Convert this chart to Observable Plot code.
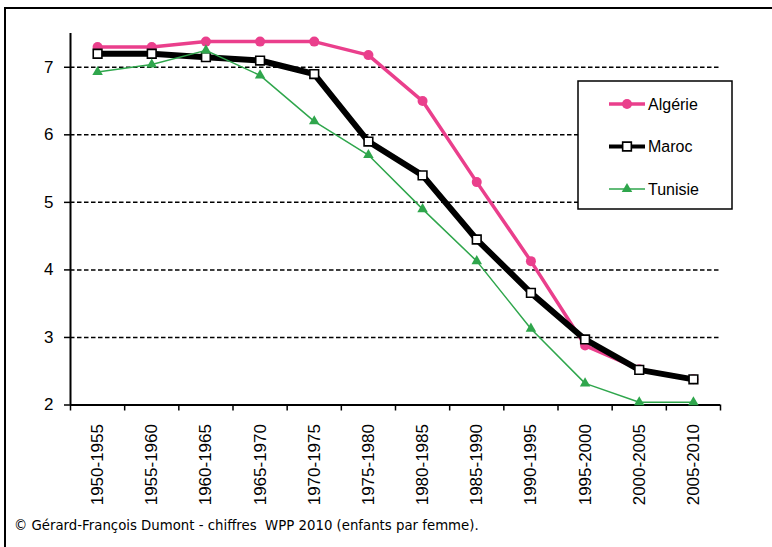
<!DOCTYPE html>
<html><head><meta charset="utf-8">
<script src="https://cdn.jsdelivr.net/npm/d3@7"></script>
<script src="https://cdn.jsdelivr.net/npm/@observablehq/plot@0.6"></script>
<style>
html,body{margin:0;padding:0;background:#fff;}
#wrap{position:relative;width:772px;height:547px;overflow:hidden;background:#fff;}
#frame{position:absolute;left:4px;top:7px;width:800px;height:600px;border-left:2px solid #000;border-top:2px solid #000;box-sizing:border-box;}
#chart{position:absolute;left:0;top:0;}
#caption{position:absolute;left:14px;top:518px;font-family:"DejaVu Sans",sans-serif;font-size:13.3px;line-height:16px;white-space:pre;color:#000;}
</style></head><body>
<div id="wrap"><div id="chart"></div><div id="frame"></div><div id="caption"></div></div>
<script>
const periods = ["1950-1955","1955-1960","1960-1965","1965-1970","1970-1975","1975-1980","1980-1985","1985-1990","1990-1995","1995-2000","2000-2005","2005-2010"];
const algerie = [7.3,7.3,7.38,7.38,7.38,7.18,6.5,5.3,4.13,2.88,2.53,2.38];
const maroc   = [7.2,7.2,7.15,7.1,6.9,5.9,5.4,4.45,3.66,2.97,2.52,2.38];
const tunisie = [6.93,7.04,7.25,6.88,6.2,5.7,4.9,4.13,3.13,2.32,2.04,2.04];
const seriesNames = ["Algérie","Maroc","Tunisie"];
const yTicks = [2,3,4,5,6,7];
const gridValues = [3,4,5,6,7];
const captionText = "© Gérard-François Dumont - chiffres  WPP 2010 (enfants par femme).";

const styles = [
  {color:"#EA3F8C", width:3.5, symbol:"circle", r:5, fill:"#EA3F8C", stroke:"none", sw:0},
  {color:"#000000", width:6, symbol:"square", r:4.9, fill:"#ffffff", stroke:"#000", sw:1.6},
  {color:"#2FA64C", width:1.5, symbol:"triangle", r:3.9, fill:"#2FA64C", stroke:"none", sw:0}
];
const allValues = [algerie, maroc, tunisie];
const rows = allValues.map((vals, k) => vals.map((v, i) => ({x: i + 0.5, value: v, series: seriesNames[k]})));

const seriesMarks = [];
rows.forEach((r, k) => {
  const s = styles[k];
  seriesMarks.push(Plot.line(r, {x:"x", y:"value", stroke:s.color, strokeWidth:s.width, strokeLinejoin:"round"}));
  seriesMarks.push(Plot.dot(r, {x:"x", y:"value", r:s.r, symbol:s.symbol, fill:s.fill, stroke:s.stroke, strokeWidth:s.sw}));
});

const chart = Plot.plot({
  width: 772, height: 505,
  marginLeft: 70, marginRight: 52, marginTop: 33, marginBottom: 100.5,
  x: {domain: [0, periods.length], label: null},
  y: {domain: [2, 7.5], label: null},
  style: {fontFamily: "'Liberation Sans', Arial, sans-serif", fontSize: "17px", color: "#000", background: "transparent", overflow: "visible"},
  marks: [
    Plot.ruleY(gridValues, {stroke: "#000", strokeWidth: 1.5, strokeDasharray: "4.5,2.5"}),
    Plot.axisY({ticks: yTicks, tickSize: 6, tickPadding: 11, tickFormat: d => String(d), strokeWidth: 1.5, fontSize: 17, label: null}),
    Plot.axisX({ticks: d3.range(0, periods.length + 1), tickSize: 6, tickFormat: () => "", strokeWidth: 1.5, label: null}),
    Plot.axisX({ticks: periods.map((_, i) => i + 0.5), tickSize: 0, tickPadding: 19, tickRotate: -90, tickFormat: v => periods[Math.floor(v)], fontSize: 17, label: null}),
    Plot.ruleX([0], {y1: 2, y2: 7.5, strokeWidth: 2}),
    Plot.ruleY([2], {strokeWidth: 2}),
    ...seriesMarks
  ]
});
document.getElementById("chart").appendChild(chart);

// Legend
const svg = d3.select(chart);
const lg = svg.append("g").attr("text-anchor", "start");
const box = {x: 578, y: 81, w: 154, h: 128};
lg.append("rect").attr("x", box.x).attr("y", box.y).attr("width", box.w).attr("height", box.h)
  .attr("fill", "#fff").attr("stroke", "#000").attr("stroke-width", 1.5);
const symMap = {circle: d3.symbolCircle, square: d3.symbolSquare, triangle: d3.symbolTriangle};
seriesNames.forEach((name, k) => {
  const s = styles[k];
  const cy = 104 + k * 42.5;
  const g = lg.append("g");
  g.append("line").attr("x1", 609).attr("x2", 645).attr("y1", cy).attr("y2", cy)
    .attr("stroke", s.color).attr("stroke-width", Math.min(s.width, 4));
  g.append("path").attr("transform", `translate(627,${cy})`)
    .attr("d", d3.symbol(symMap[s.symbol], Math.PI * s.r * s.r)())
    .attr("fill", s.fill).attr("stroke", s.stroke).attr("stroke-width", s.sw);
  g.append("text").attr("x", 648).attr("y", cy).attr("dy", "0.35em").attr("text-anchor", "start")
    .attr("font-size", 16).attr("font-family", "'Liberation Sans', Arial, sans-serif").text(name);
});

document.getElementById("caption").textContent = captionText;
</script>
</body></html>
